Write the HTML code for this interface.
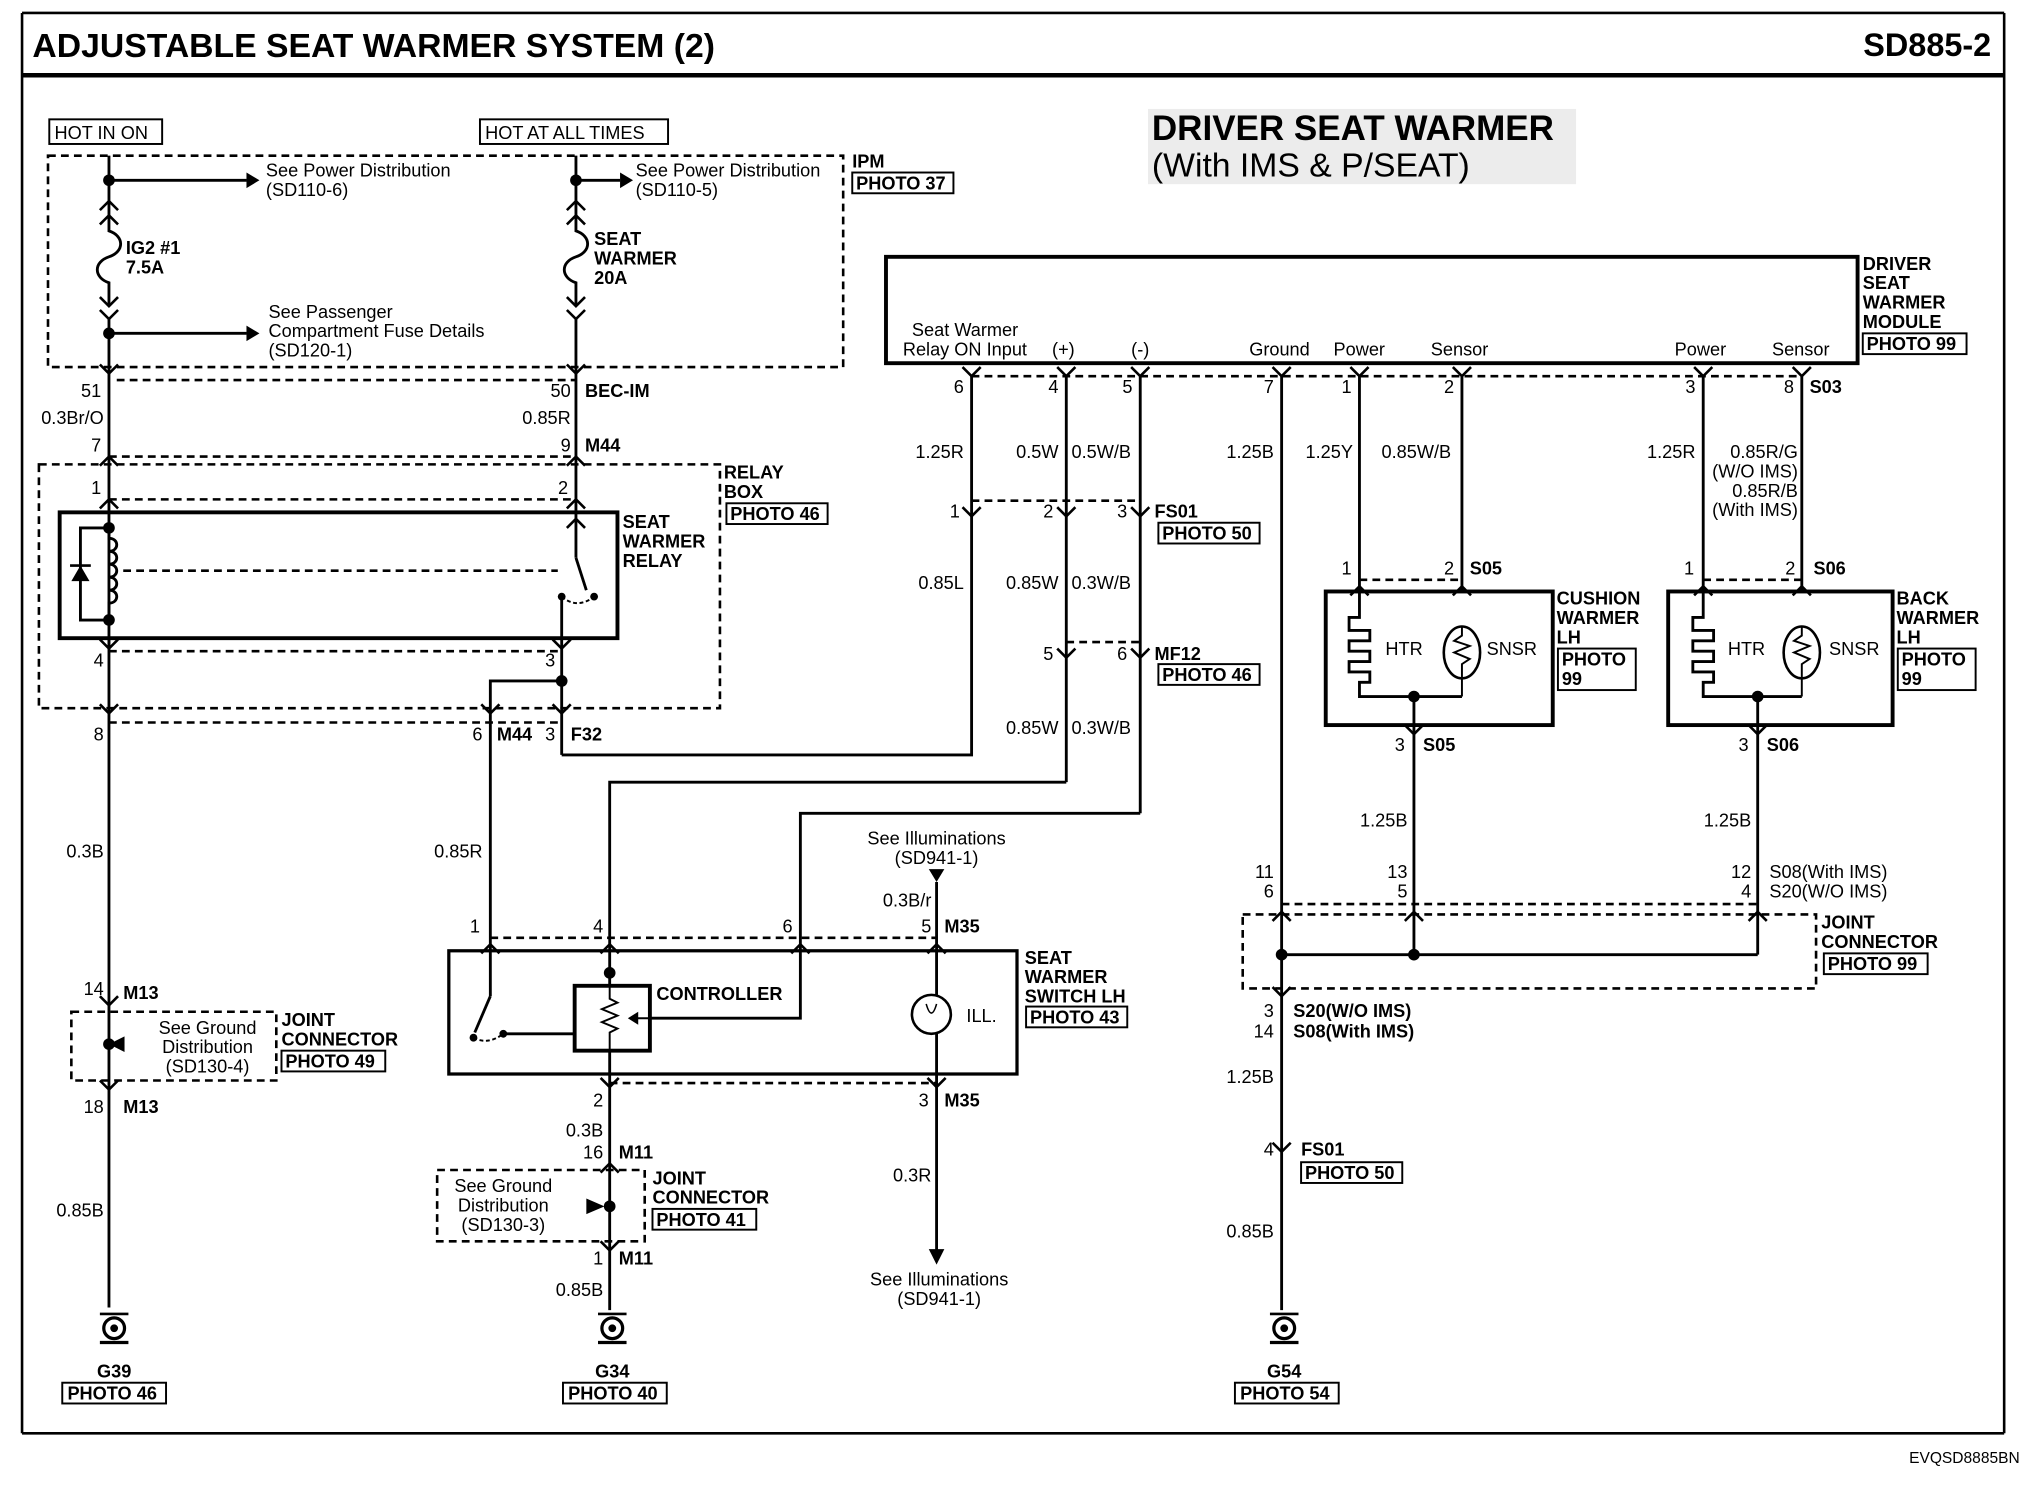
<!DOCTYPE html>
<html><head><meta charset="utf-8">
<style>
html,body{margin:0;padding:0;background:#fff;}
svg{display:block;}
text{font-family:"Liberation Sans Narrow","Liberation Sans",sans-serif;font-size:14px;fill:#000;}
.b{font-weight:bold;}
.e{text-anchor:end;}
.m{text-anchor:middle;}
.w{stroke:#000;stroke-width:2.2;fill:none;}
.d{stroke:#000;stroke-width:2;fill:none;stroke-dasharray:6,4;}
.bx{stroke:#000;stroke-width:1.5;fill:#fff;}
</style></head><body>
<svg width="2034" height="1504" viewBox="0 0 1568 1159.5" preserveAspectRatio="none" xmlns="http://www.w3.org/2000/svg">
<defs>
<path id="dn" d="M-7,-7 L0,0 L7,-7" stroke="#000" stroke-width="2" fill="none"/>
<path id="up" d="M-7,7 L0,0 L7,7" stroke="#000" stroke-width="2" fill="none"/>
<g id="gnd"><circle cx="0" cy="0" r="8" stroke="#000" stroke-width="2.5" fill="#fff"/><circle cx="0" cy="0" r="3"/><line x1="-11" y1="-11" x2="11" y2="-11" stroke="#000" stroke-width="2"/><line x1="-11" y1="11" x2="11" y2="11" stroke="#000" stroke-width="2.5"/></g>
<path id="ar" d="M0,-6 L10,0 L0,6 Z"/>
</defs>
<!-- frame -->
<line x1="17" y1="10" x2="1545" y2="10" stroke="#000" stroke-width="2"/>
<line x1="17" y1="10" x2="17" y2="1105" stroke="#000" stroke-width="2"/>
<line x1="1545" y1="10" x2="1545" y2="1105" stroke="#000" stroke-width="2"/>
<line x1="17" y1="1105" x2="1545" y2="1105" stroke="#000" stroke-width="2"/>
<line x1="17" y1="58" x2="1545" y2="58" stroke="#000" stroke-width="3.5"/>
<text x="25" y="44" class="b" style="font-size:26px">ADJUSTABLE SEAT WARMER SYSTEM (2)</text>
<text x="1535" y="43" class="b e" style="font-size:25px">SD885-2</text>
<text x="1557" y="1128" class="e" style="font-size:12px">EVQSD8885BN</text>

<!-- Driver seat warmer heading -->
<rect x="885" y="84" width="330" height="58" fill="#ececec"/>
<text x="888" y="108" class="b" style="font-size:27px">DRIVER SEAT WARMER</text>
<text x="888" y="136" style="font-size:26px">(With IMS &amp; P/SEAT)</text>

<!-- IPM -->
<rect x="38" y="92" width="87" height="19" class="bx"/><text x="42" y="107">HOT IN ON</text>
<rect x="370" y="92" width="145" height="19" class="bx"/><text x="374" y="107">HOT AT ALL TIMES</text>
<rect x="37" y="120" width="613" height="163" class="d"/>
<text x="657" y="129" class="b">IPM</text>
<rect x="657" y="133" width="78" height="16" class="bx"/><text x="660" y="146" class="b">PHOTO 37</text>

<line x1="84" y1="120" x2="84" y2="168" class="w"/>
<circle cx="84" cy="139" r="4.5"/><line x1="84" y1="139" x2="190" y2="139" class="w"/><use href="#ar" x="190" y="139"/>
<text x="205" y="136">See Power Distribution</text><text x="205" y="151">(SD110-6)</text>
<use href="#up" x="84" y="155"/><use href="#up" x="84" y="166"/>
<path d="M84,166 L84,178 C96,182 96,194 84,198 C72,202 72,214 84,218 L84,236" class="w"/>
<text x="97" y="196" class="b">IG2 #1</text><text x="97" y="211" class="b">7.5A</text>
<use href="#dn" x="84" y="236"/><use href="#dn" x="84" y="246"/>
<line x1="84" y1="246" x2="84" y2="500" class="w"/>
<circle cx="84" cy="257" r="4.5"/><line x1="84" y1="257" x2="190" y2="257" class="w"/><use href="#ar" x="190" y="257"/>
<text x="207" y="245">See Passenger</text><text x="207" y="260">Compartment Fuse Details</text><text x="207" y="275">(SD120-1)</text>
<use href="#dn" x="84" y="288"/>

<line x1="444" y1="120" x2="444" y2="168" class="w"/>
<circle cx="444" cy="139" r="4.5"/><line x1="444" y1="139" x2="478" y2="139" class="w"/><use href="#ar" x="478" y="139"/>
<text x="490" y="136">See Power Distribution</text><text x="490" y="151">(SD110-5)</text>
<use href="#up" x="444" y="155"/><use href="#up" x="444" y="166"/>
<path d="M444,166 L444,178 C456,182 456,194 444,198 C432,202 432,214 444,218 L444,236" class="w"/>
<text x="458" y="189" class="b">SEAT</text><text x="458" y="204" class="b">WARMER</text><text x="458" y="219" class="b">20A</text>
<use href="#dn" x="444" y="236"/><use href="#dn" x="444" y="246"/>
<line x1="444" y1="246" x2="444" y2="395" class="w"/>
<use href="#dn" x="444" y="288"/>
<line x1="90" y1="293" x2="444" y2="293" class="d"/>
<text x="78" y="306" class="e">51</text><text x="80" y="327" class="e">0.3Br/O</text><text x="78" y="348" class="e">7</text>
<text x="440" y="306" class="e">50</text><text x="451" y="306" class="b">BEC-IM</text>
<text x="440" y="327" class="e">0.85R</text>
<text x="440" y="348" class="e">9</text><text x="451" y="348" class="b">M44</text>

<!-- Relay box -->
<rect x="30" y="358" width="525" height="188" class="d"/>
<line x1="84" y1="352" x2="444" y2="352" class="d"/>
<use href="#up" x="84" y="352"/><use href="#up" x="444" y="352"/>
<use href="#up" x="84" y="385"/><use href="#up" x="444" y="385"/>
<line x1="84" y1="385" x2="444" y2="385" class="d"/>
<text x="78" y="381" class="e">1</text><text x="438" y="381" class="e">2</text>
<text x="558" y="369" class="b">RELAY</text><text x="558" y="384" class="b">BOX</text>
<rect x="560" y="388" width="78" height="16" class="bx"/><text x="563" y="401" class="b">PHOTO 46</text>
<rect x="46" y="395" width="430" height="97" stroke="#000" stroke-width="3" fill="none"/>
<text x="480" y="407" class="b">SEAT</text><text x="480" y="422" class="b">WARMER</text><text x="480" y="437" class="b">RELAY</text>
<circle cx="84" cy="407" r="4.5"/><circle cx="84" cy="478" r="4.5"/>
<path d="M84,407 L84,415 C92,415 92,425 84,425 C92,425 92,435 84,435 C92,435 92,445 84,445 C92,445 92,455 84,455 C92,455 92,465 84,465 L84,478" class="w"/>
<path d="M84,407 L62,407 L62,478 L84,478" class="w"/>
<path d="M55,448 L69,448 L62,436 Z"/><line x1="54" y1="436" x2="70" y2="436" stroke="#000" stroke-width="2"/>
<line x1="95" y1="440" x2="430" y2="440" class="d" stroke-width="1.5"/>
<line x1="444" y1="395" x2="444" y2="430" class="w"/><use href="#up" x="444" y="400"/>
<line x1="444" y1="430" x2="452" y2="455" class="w"/>
<circle cx="433" cy="460" r="3"/><circle cx="458" cy="460" r="3"/>
<path d="M433,460 Q445,470 458,460" stroke="#000" stroke-width="1.5" fill="none" stroke-dasharray="3,2"/>
<line x1="433" y1="460" x2="433" y2="492" class="w"/>
<line x1="84" y1="492" x2="84" y2="1008" class="w"/>
<line x1="433" y1="492" x2="433" y2="582" class="w"/>
<use href="#dn" x="84" y="500"/><use href="#dn" x="433" y="500"/>
<line x1="84" y1="502" x2="433" y2="502" class="d"/>
<text x="80" y="514" class="e">4</text><text x="428" y="514" class="e">3</text>
<circle cx="433" cy="525" r="4.5"/>
<path d="M433,525 L378,525 L378,733" class="w"/>
<use href="#dn" x="84" y="550"/><use href="#dn" x="378" y="550"/><use href="#dn" x="433" y="550"/>
<line x1="84" y1="557" x2="433" y2="557" class="d"/>
<text x="80" y="571" class="e">8</text>
<text x="372" y="571" class="e">6</text><text x="383" y="571" class="b">M44</text>
<text x="428" y="571" class="e">3</text><text x="440" y="571" class="b">F32</text>
<path d="M433,582 L749,582 L749,290" class="w"/>

<text x="80" y="661" class="e">0.3B</text>
<text x="372" y="661" class="e">0.85R</text>

<!-- left joint connector -->
<use href="#dn" x="84" y="775"/>
<text x="80" y="767" class="e">14</text><text x="95" y="770" class="b">M13</text>
<rect x="55" y="780" width="158" height="53" class="d"/>
<circle cx="84" cy="805" r="4.5"/><path d="M84,805 L96,799 L96,811 Z"/>
<text x="160" y="797" class="m">See Ground</text><text x="160" y="812" class="m">Distribution</text><text x="160" y="827" class="m">(SD130-4)</text>
<text x="217" y="791" class="b">JOINT</text><text x="217" y="806" class="b">CONNECTOR</text>
<rect x="217" y="810" width="80" height="16" class="bx"/><text x="220" y="823" class="b">PHOTO 49</text>
<use href="#dn" x="84" y="840"/>
<text x="80" y="858" class="e">18</text><text x="95" y="858" class="b">M13</text>
<text x="80" y="938" class="e">0.85B</text>
<use href="#gnd" x="88" y="1024"/>
<text x="88" y="1062" class="b m">G39</text>
<rect x="48" y="1066" width="80" height="16" class="bx"/><text x="52" y="1079" class="b">PHOTO 46</text>

<!-- module -->
<rect x="683" y="198" width="749" height="82" stroke="#000" stroke-width="3" fill="none"/>
<text x="703" y="259">Seat Warmer</text><text x="696" y="274">Relay ON Input</text>
<text x="811" y="274">(+)</text><text x="872" y="274">(-)</text>
<text x="963" y="274">Ground</text><text x="1028" y="274">Power</text><text x="1103" y="274">Sensor</text>
<text x="1291" y="274">Power</text><text x="1366" y="274">Sensor</text>
<text x="1436" y="208" class="b">DRIVER</text><text x="1436" y="223" class="b">SEAT</text><text x="1436" y="238" class="b">WARMER</text><text x="1436" y="253" class="b">MODULE</text>
<rect x="1436" y="257" width="80" height="16" class="bx"/><text x="1439" y="270" class="b">PHOTO 99</text>
<line x1="749" y1="290" x2="1389" y2="290" class="d"/>
<use href="#dn" x="749" y="290"/><use href="#dn" x="822" y="290"/><use href="#dn" x="879" y="290"/><use href="#dn" x="988" y="290"/>
<use href="#dn" x="1048" y="290"/><use href="#dn" x="1127" y="290"/><use href="#dn" x="1313" y="290"/><use href="#dn" x="1389" y="290"/>
<text x="743" y="303" class="e">6</text><text x="816" y="303" class="e">4</text><text x="873" y="303" class="e">5</text><text x="982" y="303" class="e">7</text>
<text x="1042" y="303" class="e">1</text><text x="1121" y="303" class="e">2</text><text x="1307" y="303" class="e">3</text><text x="1383" y="303" class="e">8</text>
<text x="1395" y="303" class="b">S03</text>
<line x1="822" y1="290" x2="822" y2="603" class="w"/>
<line x1="879" y1="290" x2="879" y2="627" class="w"/>
<line x1="988" y1="290" x2="988" y2="1010" class="w"/>
<line x1="1048" y1="290" x2="1048" y2="456" class="w"/>
<line x1="1127" y1="290" x2="1127" y2="456" class="w"/>
<line x1="1313" y1="290" x2="1313" y2="456" class="w"/>
<line x1="1389" y1="290" x2="1389" y2="456" class="w"/>
<text x="743" y="353" class="e">1.25R</text><text x="816" y="353" class="e">0.5W</text><text x="826" y="353">0.5W/B</text>
<text x="982" y="353" class="e">1.25B</text><text x="1043" y="353" class="e">1.25Y</text><text x="1065" y="353">0.85W/B</text>
<text x="1307" y="353" class="e">1.25R</text>
<text x="1386" y="353" class="e">0.85R/G</text><text x="1386" y="368" class="e">(W/O IMS)</text><text x="1386" y="383" class="e">0.85R/B</text><text x="1386" y="398" class="e">(With IMS)</text>
<!-- FS01 / MF12 -->
<line x1="749" y1="386" x2="879" y2="386" class="d"/>
<use href="#dn" x="749" y="398"/><use href="#dn" x="822" y="398"/><use href="#dn" x="879" y="398"/>
<text x="740" y="399" class="e">1</text><text x="812" y="399" class="e">2</text><text x="869" y="399" class="e">3</text>
<text x="890" y="399" class="b">FS01</text>
<rect x="893" y="403" width="78" height="16" class="bx"/><text x="896" y="416" class="b">PHOTO 50</text>
<text x="743" y="454" class="e">0.85L</text><text x="816" y="454" class="e">0.85W</text><text x="826" y="454">0.3W/B</text>
<line x1="822" y1="495" x2="879" y2="495" class="d"/>
<use href="#dn" x="822" y="507"/><use href="#dn" x="879" y="507"/>
<text x="812" y="509" class="e">5</text><text x="869" y="509" class="e">6</text>
<text x="890" y="509" class="b">MF12</text>
<rect x="893" y="512" width="78" height="16" class="bx"/><text x="896" y="525" class="b">PHOTO 46</text>
<text x="816" y="566" class="e">0.85W</text><text x="826" y="566">0.3W/B</text>
<path d="M822,603 L470,603 L470,733" class="w"/>
<path d="M879,627 L617,627 L617,785 L501,785" class="w"/>

<!-- switch -->
<line x1="378" y1="723" x2="722" y2="723" class="d"/>
<use href="#up" x="378" y="728"/><use href="#up" x="470" y="728"/><use href="#up" x="617" y="728"/><use href="#up" x="722" y="728"/>
<text x="370" y="719" class="e">1</text><text x="465" y="719" class="e">4</text><text x="611" y="719" class="e">6</text>
<text x="718" y="719" class="e">5</text><text x="728" y="719" class="b">M35</text>
<rect x="346" y="733" width="438" height="95" stroke="#000" stroke-width="2.5" fill="none"/>
<text x="790" y="743" class="b">SEAT</text><text x="790" y="758" class="b">WARMER</text><text x="790" y="773" class="b">SWITCH LH</text>
<rect x="791" y="776" width="78" height="16" class="bx"/><text x="794" y="789" class="b">PHOTO 43</text>
<line x1="378" y1="733" x2="378" y2="768" class="w"/>
<line x1="378" y1="768" x2="366" y2="796" class="w"/>
<circle cx="365" cy="800" r="3"/><circle cx="388" cy="797" r="3"/>
<path d="M365,800 Q376,806 388,797" stroke="#000" stroke-width="1.5" fill="none" stroke-dasharray="3,2"/>
<line x1="388" y1="797" x2="443" y2="797" class="w"/>
<line x1="470" y1="733" x2="470" y2="760" class="w"/><circle cx="470" cy="750" r="4.5"/>
<rect x="443" y="760" width="58" height="50" stroke="#000" stroke-width="3" fill="none"/>
<path d="M470,760 L470,770 L476,773 L464,778 L476,783 L464,788 L476,793 L470,796 L470,810" stroke="#000" stroke-width="1.5" fill="none"/>
<path d="M501,785 L488,785" stroke="#000" stroke-width="1.5"/><path d="M484,785 L492,780 L492,790 Z"/>
<text x="506" y="771" class="b">CONTROLLER</text>
<line x1="722" y1="680" x2="722" y2="767" class="w"/>
<path d="M716,670 L728,670 L722,680 Z"/>
<text x="722" y="651" class="m">See Illuminations</text><text x="722" y="666" class="m">(SD941-1)</text>
<text x="718" y="699" class="e">0.3B/r</text>
<circle cx="718" cy="782" r="15" stroke="#000" stroke-width="2" fill="none"/>
<path d="M714,774 Q718,788 722,774" stroke="#000" stroke-width="1.2" fill="none"/>
<text x="745" y="788">ILL.</text>
<line x1="722" y1="797" x2="722" y2="965" class="w"/>
<line x1="470" y1="810" x2="470" y2="1010" class="w"/>
<line x1="470" y1="835" x2="722" y2="835" class="d"/>
<use href="#dn" x="470" y="838"/><use href="#dn" x="722" y="838"/>
<text x="465" y="853" class="e">2</text><text x="716" y="853" class="e">3</text><text x="728" y="853" class="b">M35</text>
<text x="465" y="876" class="e">0.3B</text>
<text x="465" y="893" class="e">16</text><text x="477" y="893" class="b">M11</text>
<use href="#up" x="470" y="897"/>
<rect x="337" y="902" width="160" height="55" class="d"/>
<circle cx="470" cy="930" r="4.5"/><path d="M466,930 L452,924 L452,936 Z"/>
<text x="388" y="919" class="m">See Ground</text><text x="388" y="934" class="m">Distribution</text><text x="388" y="949" class="m">(SD130-3)</text>
<text x="503" y="913" class="b">JOINT</text><text x="503" y="928" class="b">CONNECTOR</text>
<rect x="503" y="932" width="80" height="16" class="bx"/><text x="506" y="945" class="b">PHOTO 41</text>
<use href="#dn" x="470" y="964"/>
<text x="465" y="975" class="e">1</text><text x="477" y="975" class="b">M11</text>
<text x="465" y="999" class="e">0.85B</text>
<use href="#gnd" x="472" y="1024"/>
<text x="472" y="1062" class="b m">G34</text>
<rect x="434" y="1066" width="80" height="16" class="bx"/><text x="438" y="1079" class="b">PHOTO 40</text>
<text x="718" y="911" class="e">0.3R</text>
<path d="M716,963 L728,963 L722,975 Z"/>
<text x="724" y="991" class="m">See Illuminations</text><text x="724" y="1006" class="m">(SD941-1)</text>

<!-- cushion warmer -->
<line x1="1048" y1="447" x2="1127" y2="447" class="d"/>
<use href="#up" x="1048" y="452"/><use href="#up" x="1127" y="452"/>
<text x="1042" y="443" class="e">1</text><text x="1121" y="443" class="e">2</text><text x="1133" y="443" class="b">S05</text>
<rect x="1022" y="456" width="175" height="103" stroke="#000" stroke-width="3" fill="none"/>
<path d="M1048,456 L1048,476 L1040,476 L1040,486 L1056,486 L1056,494 L1040,494 L1040,502 L1056,502 L1056,510 L1040,510 L1040,518 L1056,518 L1056,526 L1048,526 L1048,537 L1127,537" class="w"/>
<text x="1068" y="505">HTR</text>
<ellipse cx="1127" cy="503" rx="14" ry="20" stroke="#000" stroke-width="2" fill="none"/>
<path d="M1127,483 L1127,490 L1121,494 L1133,498 L1121,503 L1133,508 L1127,512 L1127,523 L1127,537" stroke="#000" stroke-width="1.5" fill="none"/>
<text x="1146" y="505">SNSR</text>
<circle cx="1090" cy="537" r="4.5"/>
<line x1="1090" y1="537" x2="1090" y2="736" class="w"/>
<text x="1200" y="466" class="b">CUSHION</text><text x="1200" y="481" class="b">WARMER</text><text x="1200" y="496" class="b">LH</text>
<rect x="1201" y="500" width="60" height="32" class="bx"/><text x="1204" y="513" class="b">PHOTO</text><text x="1204" y="528" class="b">99</text>
<use href="#dn" x="1090" y="566"/>
<text x="1083" y="579" class="e">3</text><text x="1097" y="579" class="b">S05</text>
<text x="1085" y="637" class="e">1.25B</text>
<text x="1085" y="677" class="e">13</text><text x="1085" y="692" class="e">5</text>

<!-- back warmer -->
<line x1="1313" y1="447" x2="1389" y2="447" class="d"/>
<use href="#up" x="1313" y="452"/><use href="#up" x="1389" y="452"/>
<text x="1306" y="443" class="e">1</text><text x="1384" y="443" class="e">2</text><text x="1398" y="443" class="b">S06</text>
<rect x="1286" y="456" width="173" height="103" stroke="#000" stroke-width="3" fill="none"/>
<path d="M1313,456 L1313,476 L1305,476 L1305,486 L1321,486 L1321,494 L1305,494 L1305,502 L1321,502 L1321,510 L1305,510 L1305,518 L1321,518 L1321,526 L1313,526 L1313,537 L1389,537" class="w"/>
<text x="1332" y="505">HTR</text>
<ellipse cx="1389" cy="503" rx="14" ry="20" stroke="#000" stroke-width="2" fill="none"/>
<path d="M1389,483 L1389,490 L1383,494 L1395,498 L1383,503 L1395,508 L1389,512 L1389,537" stroke="#000" stroke-width="1.5" fill="none"/>
<text x="1410" y="505">SNSR</text>
<circle cx="1355" cy="537" r="4.5"/>
<line x1="1355" y1="537" x2="1355" y2="736" class="w"/>
<text x="1462" y="466" class="b">BACK</text><text x="1462" y="481" class="b">WARMER</text><text x="1462" y="496" class="b">LH</text>
<rect x="1463" y="500" width="60" height="32" class="bx"/><text x="1466" y="513" class="b">PHOTO</text><text x="1466" y="528" class="b">99</text>
<use href="#dn" x="1355" y="566"/>
<text x="1348" y="579" class="e">3</text><text x="1362" y="579" class="b">S06</text>
<text x="1350" y="637" class="e">1.25B</text>
<text x="1350" y="677" class="e">12</text><text x="1350" y="692" class="e">4</text>
<text x="1364" y="677">S08(With IMS)</text><text x="1364" y="692">S20(W/O IMS)</text>

<!-- ground joint -->
<text x="982" y="677" class="e">11</text><text x="982" y="692" class="e">6</text>
<line x1="988" y1="697" x2="1355" y2="697" class="d"/>
<rect x="958" y="705" width="442" height="57" class="d"/>
<use href="#up" x="988" y="703"/><use href="#up" x="1090" y="703"/><use href="#up" x="1355" y="703"/>
<line x1="988" y1="736" x2="1355" y2="736" class="w"/>
<circle cx="988" cy="736" r="4.5"/><circle cx="1090" cy="736" r="4.5"/>
<text x="1404" y="716" class="b">JOINT</text><text x="1404" y="731" class="b">CONNECTOR</text>
<rect x="1406" y="735" width="80" height="16" class="bx"/><text x="1409" y="748" class="b">PHOTO 99</text>
<use href="#dn" x="988" y="768"/>
<text x="982" y="784" class="e">3</text><text x="997" y="784" class="b">S20(W/O IMS)</text>
<text x="982" y="800" class="e">14</text><text x="997" y="800" class="b">S08(With IMS)</text>
<text x="982" y="835" class="e">1.25B</text>
<use href="#dn" x="988" y="888"/>
<text x="982" y="891" class="e">4</text><text x="1003" y="891" class="b">FS01</text>
<rect x="1003" y="896" width="78" height="16" class="bx"/><text x="1006" y="909" class="b">PHOTO 50</text>
<text x="982" y="954" class="e">0.85B</text>
<use href="#gnd" x="990" y="1024"/>
<text x="990" y="1062" class="b m">G54</text>
<rect x="952" y="1066" width="80" height="16" class="bx"/><text x="956" y="1079" class="b">PHOTO 54</text>
</svg>
</body></html>
